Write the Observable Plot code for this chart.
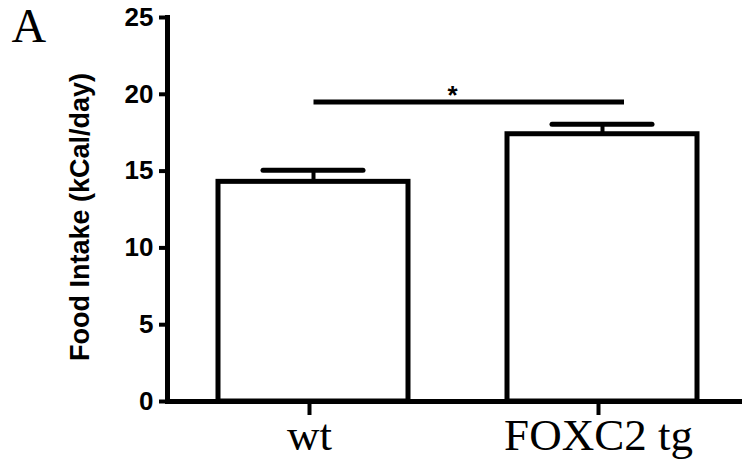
<!DOCTYPE html>
<html>
<head>
<meta charset="utf-8">
<script src="https://cdn.jsdelivr.net/npm/d3@7"></script>
<script src="https://cdn.jsdelivr.net/npm/@observablehq/plot@0.6"></script>
<style>
  body { margin: 0; background: #fff; }
</style>
</head>
<body>
<div id="chart"></div>
<script>
// Daily food intake per group (mean ± SEM)
const groups = ["wt", "FOXC2 tg"];
const intake = [14.3, 17.4];
const sem = [0.75, 0.65];
const yTicks = [0, 5, 10, 15, 20, 25];

// Significance bracket between the two groups
const significance = [{from: "wt", to: "FOXC2 tg", y: 19.5, label: "*"}];

const panelLabel = "A";
const yLabel = "Food Intake (kCal/day)";

const rows = groups.map((g, i) => ({group: g, mean: intake[i], sem: sem[i]}));

const sans = "Liberation Sans, Arial, sans-serif";
const serif = "Liberation Serif, Times New Roman, serif";

const chart = Plot.plot({
  width: 742,
  height: 475,
  marginLeft: 167,
  marginRight: 0,
  marginTop: 17,
  marginBottom: 74,
  style: {background: "white", color: "black", fontFamily: sans, overflow: "visible"},
  x: {domain: groups, range: [167, 749], paddingInner: 0.341, paddingOuter: 0.174, label: null},
  y: {domain: [0, 25], label: null},
  marks: [
    Plot.barY(rows, {x: "group", y: "mean", fill: "white", stroke: "black", strokeWidth: 5}),
    Plot.ruleX(rows, {x: "group", y1: "mean", y2: d => d.mean + d.sem, strokeWidth: 4}),
    Plot.tickY(rows, {x: "group", y: d => d.mean + d.sem, strokeWidth: 5, strokeLinecap: "round", insetLeft: 45, insetRight: 45}),
    Plot.ruleY(significance, {x1: "from", x2: "to", y: "y", strokeWidth: 5, insetLeft: 95.5, insetRight: 73}),
    Plot.text(significance, {x: "from", y: "y", text: "label", dx: 139, dy: 2, lineAnchor: "bottom", fontSize: 26, fontWeight: "bold"}),
    Plot.frame({anchor: "left", strokeWidth: 5}),
    Plot.ruleY([0], {strokeWidth: 5}),
    Plot.axisY({ticks: yTicks, tickSize: 8, tickPadding: 6, fontSize: 26, fontWeight: "bold", strokeWidth: 4, label: null}),
    Plot.axisX({tickSize: 14, tickPadding: 3, fontSize: 45, fontFamily: serif, strokeWidth: 4, label: null, dx: -4}),
    Plot.text([yLabel], {frameAnchor: "left", dx: -87, dy: 7.5, rotate: -90, textAnchor: "middle", lineAnchor: "middle", fontSize: 27, fontWeight: "bold"}),
    Plot.text([panelLabel], {frameAnchor: "top-left", dx: -156, dy: -10, textAnchor: "start", lineAnchor: "top", fontSize: 48, fontFamily: serif})
  ]
});

document.getElementById("chart").append(chart);
</script>
</body>
</html>
